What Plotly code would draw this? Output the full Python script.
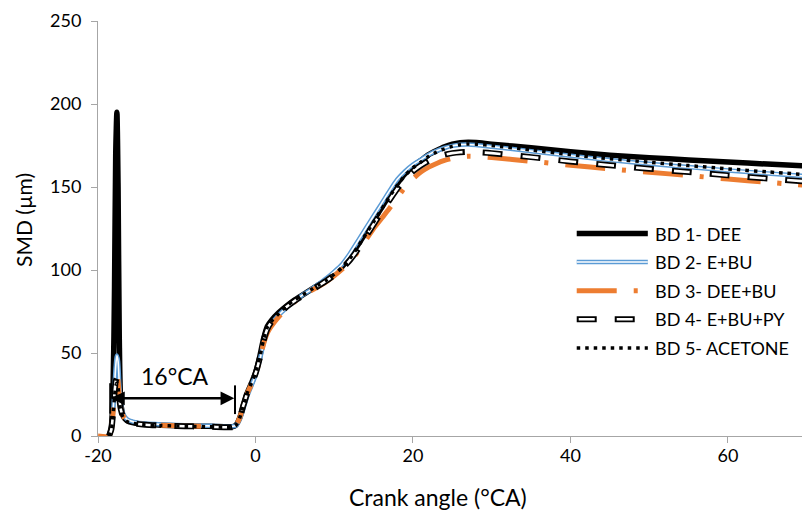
import plotly.graph_objects as go

crank_angle = [-20, -18.6, -18.3, -18.1, -17.9, -17.75, -17.6, -17.45, -17.3, -17.1,
               -16.8, -16.4, -16, -15, -14, -12, -10, -8, -6, -4, -3, -2.5, -2, -1.5,
               -1, -0.5, 0, 0.5, 1, 1.5, 2, 3, 4, 5, 6, 7, 8, 9, 10, 11, 12, 13, 14,
               15, 16, 17, 18, 19, 20, 21, 22, 23, 24, 25, 26, 27, 28, 30, 35, 40,
               45, 50, 55, 60, 65, 70]

smd_bd1 = [None, 0, 6, 25, 90, 170, 195, 150, 60, 20,
           12, 9.5, 8.5, 7.5, 7, 6.5, 6.2, 6, 5.8, 5.5, 5.5, 6.5, 11, 19,
           26.5, 32, 38, 47, 58, 66, 69.5, 74.5, 78.5, 82, 85, 88, 91, 94, 97.5, 102, 108, 115, 122.5,
           130, 137.5, 145, 152, 158, 162.5, 166, 169.5, 172, 174.2, 175.8, 176.7, 177, 176.8, 175.8, 173.6, 171.2,
           169.2, 167.7, 166.3, 165, 163.8, 162.6]

smd_bd2 = [None, 0, 4, 14, 30, 42, 48.5, 45, 32, 20,
           13.5, 10.5, 9.3, 8, 7.5, 7, 6.6, 6.3, 6.1, 5.8, 5.8, 6.3, 10, 17,
           24.5, 30.5, 36.5, 45, 55, 63.5, 67.5, 73, 77.5, 81.5, 85, 88, 91.5, 95, 99, 103.5, 110, 117.5, 125,
           132.5, 140, 147.5, 154.5, 159.5, 163.5, 166.5, 169.5, 171.8, 173.5, 174.8, 175.5, 175.6, 175.3, 174.3, 171.6, 168.8,
           166.2, 164, 162, 160, 158.2, 156.5]

smd_bd3 = [0, 0, 4, 13, 26, 34, 37, 33, 25, 17,
           12, 9.5, 8.5, 7.5, 7, 6.5, 6.2, 6, 5.8, 5.5, 5.5, 6.5, 11, 19,
           26, 31.5, 37, 45, 55, 62, 66, 72, 77, 81, 84.5, 87.5, 90, 93, 96.5, 100.5, 105, 111, 118,
           125, 131, 137, 143.5, 150, 155, 159, 162, 164.2, 166, 167.3, 168.2, 168.5, 168.4, 167.8, 165.5, 163.1,
           160.9, 158.9, 156.9, 154.8, 152.8, 151]

smd_bd4 = [None, 0, 4, 13, 26, 33, 35, 31, 23, 16,
           11.5, 9.3, 8.3, 7.3, 6.8, 6.3, 6, 5.8, 5.6, 5.3, 5.3, 6.3, 11, 19,
           26.5, 32, 37.5, 46, 57, 64.5, 68.5, 73.5, 78, 81.5, 84.5, 87.5, 90.5, 93.5, 97, 101, 106, 112.5, 120,
           127.5, 135, 142, 149, 155, 159.5, 163, 165.8, 168, 169.5, 170.4, 170.9, 171.1, 171, 170.4, 168, 165.4,
           163.1, 161, 159, 157, 155.1, 153.3]

smd_bd5 = [None, 0, 4, 12, 24, 30, 32, 29, 22, 15,
           11, 9, 8, 7.2, 6.7, 6.3, 6, 5.8, 5.6, 5.3, 5.3, 6.3, 11, 19,
           26.5, 32, 38, 46.5, 57.5, 65.5, 69, 74, 78.5, 82, 85, 88, 91, 94, 97.5, 101.5, 107, 114, 121.5,
           129, 136.5, 144, 151, 157, 161.5, 165, 168.5, 171, 173, 174.5, 175.5, 175.9, 175.8, 175, 172.3, 169.5,
           167, 164.9, 162.9, 160.9, 159.1, 157.4]

series_names = ["BD 1- DEE", "BD 2- E+BU", "BD 3- DEE+BU", "BD 4- E+BU+PY", "BD 5- ACETONE"]

x_ticks = [-20, 0, 20, 40, 60]
x_tick_labels = ["-20", "0", "20", "40", "60"]
y_ticks = [0, 50, 100, 150, 200, 250]
y_tick_labels = ["0", "50", "100", "150", "200", "250"]

BLUE = "#5B9BD5"
ORANGE = "#ED7D31"
FONT = "Lato"

# line styles: list of (color, width, dash) layers per series
styles = [
    [("black", 5.5, "solid")],
    [(BLUE, 4.5, "solid"), ("white", 1.6, "solid")],
    [(ORANGE, 5, "40px,17px,4px,17px")],
    [("black", 6, "20px,18px"), ("white", 2.6, "0px,2px,16px,20px")],
    [("black", 3.5, "3.5px,5px")],
]

data = [smd_bd1, smd_bd2, smd_bd3, smd_bd4, smd_bd5]

fig = go.Figure()
for name, ys, layers in zip(series_names, data, styles):
    for color, width, dash in layers:
        fig.add_trace(go.Scatter(
            x=crank_angle, y=ys, mode="lines", name=name,
            line=dict(color=color, width=width, dash=dash, shape="spline", smoothing=0.7),
            showlegend=False, hoverinfo="skip"))

# manual legend (paper coordinates)
leg_x0, leg_x1, leg_text_x = 0.680, 0.781, 0.788
leg_y = [0.4877, 0.4193, 0.3499, 0.2812, 0.2120]
for name, layers, yy in zip(series_names, styles, leg_y):
    for color, width, dash in layers:
        fig.add_shape(type="line", xref="paper", yref="paper",
                      x0=leg_x0, x1=leg_x1, y0=yy, y1=yy,
                      line=dict(color=color, width=width, dash=dash))
    fig.add_annotation(xref="paper", yref="paper", x=leg_text_x, y=yy, text=name,
                       showarrow=False, xanchor="left", yanchor="middle",
                       font=dict(family=FONT, size=18, color="black"))

# 16°CA annotation
span_start, span_end, span_y = -18.35, -2.5, 22.7
fig.add_annotation(x=span_start, y=span_y, ax=span_end, ay=span_y,
                   xref="x", yref="y", axref="x", ayref="y", text="",
                   showarrow=True, arrowhead=2, startarrowhead=2, arrowside="end+start",
                   arrowsize=1.1, startarrowsize=1.1, arrowwidth=2.5, arrowcolor="black")
fig.add_shape(type="line", xref="x", yref="y", x0=-18.45, x1=-18.45, y0=13.5, y1=31.8,
              line=dict(color="black", width=2))
fig.add_shape(type="line", xref="x", yref="y", x0=-2.6, x1=-2.6, y0=13.2, y1=30.5,
              line=dict(color="black", width=2))
fig.add_annotation(x=-10.25, y=36, xref="x", yref="y", text="16°CA", showarrow=False,
                   font=dict(family=FONT, size=23, color="black"))

# axis titles
fig.add_annotation(xref="paper", yref="paper", x=0.4835, y=-0.1477, text="Crank angle (°CA)",
                   showarrow=False, xanchor="center", yanchor="middle",
                   font=dict(family=FONT, size=23, color="black"))
fig.add_annotation(xref="paper", yref="paper", x=-0.1056, y=0.5198, text="SMD (µm)",
                   showarrow=False, xanchor="center", yanchor="middle", textangle=-90,
                   font=dict(family=FONT, size=21, color="black"))

axis_common = dict(showline=True, linecolor="#A6A6A6", linewidth=1, ticks="outside",
                   ticklen=6, tickcolor="#A6A6A6", showgrid=False, zeroline=False,
                   automargin=False,
                   tickfont=dict(family=FONT, size=18, color="black"))

fig.update_xaxes(range=[-20, 69.4], tickvals=x_ticks, ticktext=x_tick_labels,
                 ticklabelstandoff=-3, **axis_common)
fig.update_yaxes(range=[0, 250], tickvals=y_ticks, ticktext=y_tick_labels,
                 ticklabelstandoff=6, **axis_common)

fig.update_layout(width=802, height=516, margin=dict(l=98, r=0, t=21, b=80, pad=0),
                  plot_bgcolor="white", paper_bgcolor="white", showlegend=False,
                  font=dict(family=FONT, color="black"))

fig.write_html("out.html", config={"displayModeBar": False},
               post_script="document.body.style.margin='0px';")
